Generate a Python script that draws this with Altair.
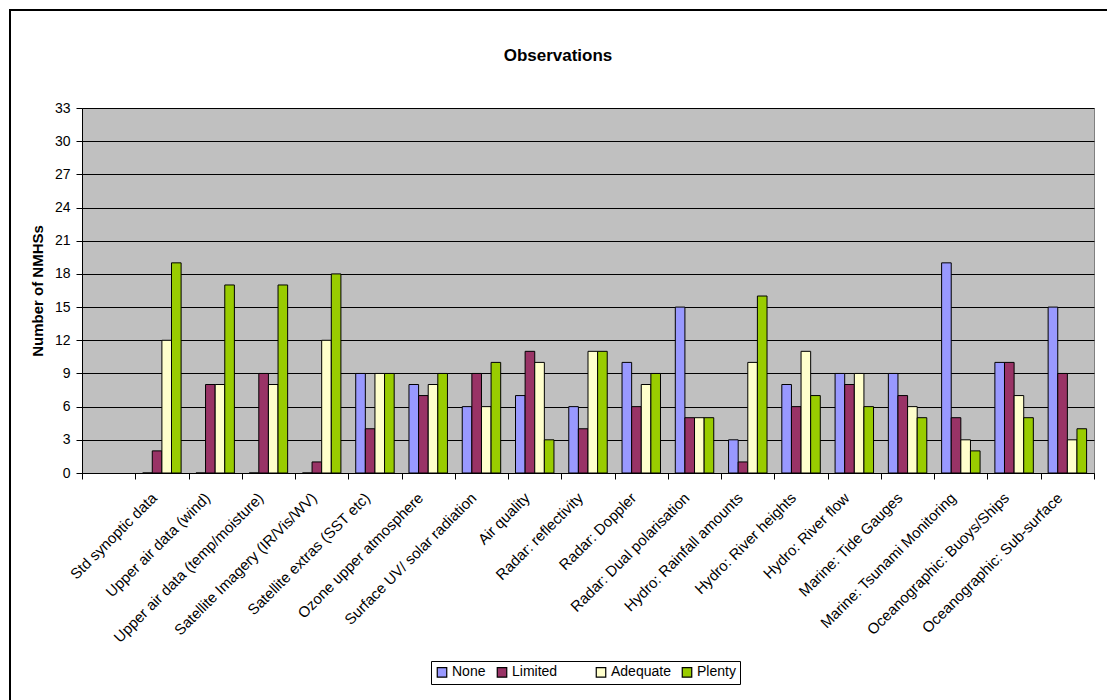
import altair as alt
import pandas as pd

categories = [
    "Std synoptic data", "Upper air data (wind)", "Upper air data (temp/moisture)",
    "Satellite Imagery (IR/Vis/WV)", "Satellite extras (SST etc)", "Ozone upper atmosphere",
    "Surface UV/ solar radiation", "Air quality", "Radar: reflectivity", "Radar: Doppler",
    "Radar: Dual polarisation", "Hydro: Rainfall amounts", "Hydro: River heights",
    "Hydro: River flow", "Marine: Tide Gauges", "Marine: Tsunami Monitoring",
    "Oceanographic: Buoys/Ships", "Oceanographic: Sub-surface",
]
none_vals = [0, 0, 0, 0, 9, 8, 6, 7, 6, 10, 15, 3, 8, 9, 9, 19, 10, 15]
limited_vals = [2, 8, 9, 1, 4, 7, 9, 11, 4, 6, 5, 1, 6, 8, 7, 5, 10, 9]
adequate_vals = [12, 8, 8, 12, 9, 8, 6, 10, 11, 8, 5, 10, 11, 9, 6, 3, 7, 3]
plenty_vals = [19, 17, 17, 18, 9, 9, 10, 3, 11, 9, 5, 16, 7, 6, 5, 2, 5, 4]
series = ["None", "Limited", "Adequate", "Plenty"]
colors = ["#9999FF", "#993366", "#FFFFCC", "#99CC00"]
y_ticks = list(range(0, 34, 3))
title_text = "Observations"

rows = []
for s, vals in zip(series, [none_vals, limited_vals, adequate_vals, plenty_vals]):
    for c, v in zip(categories, vals):
        rows.append({"category": c, "series": s, "value": v})
df = pd.DataFrame(rows)

FONT = "Liberation Sans"
domain_x = [" "] + categories

NB = "\u00a0"
ZW = "\u200b"
legend_expr = "datum.label == 'Limited' ? 'Limited" + NB * 7 + ZW + "' : datum.label"

bars = alt.Chart(df).mark_bar(stroke="black", strokeWidth=1).encode(
    x=alt.X("category:N", sort=domain_x,
            scale=alt.Scale(domain=domain_x, paddingInner=0, paddingOuter=0),
            axis=alt.Axis(title=None, labelAngle=-45, labelAlign="right", labelBaseline="top",
                          tickBand="extent", labelFontSize=15, labelFont=FONT,
                          labelColor="black", domainColor="black", tickColor="black",
                          tickSize=6, labelPadding=11, labelOffset=-13,
                          grid=False, labelLimit=400)),
    xOffset=alt.XOffset("series:N", sort=series,
                        scale=alt.Scale(domain=series, paddingInner=0, paddingOuter=0.77)),
    y=alt.Y("value:Q", scale=alt.Scale(domain=[0, 33], nice=False),
            axis=alt.Axis(title="Number of NMHSs", values=y_ticks, grid=True,
                          gridColor="black", gridOpacity=1, gridWidth=1,
                          labelFontSize=14, labelFont=FONT, labelColor="black",
                          domainColor="black", tickColor="black", tickSize=6,
                          labelPadding=6,
                          titleFont=FONT, titleFontSize=15, titleFontWeight="bold",
                          titleColor="black", titlePadding=9)),
    color=alt.Color("series:N", sort=series,
                    scale=alt.Scale(domain=series, range=colors),
                    legend=alt.Legend(title=None, orient="none", legendX=349, legendY=553,
                                      direction="horizontal", symbolType="square",
                                      symbolSize=90, symbolStrokeColor="black",
                                      symbolStrokeWidth=1.2, labelFont=FONT, labelFontSize=14,
                                      labelColor="black", strokeColor="black",
                                      fillColor="white", padding=4, columnPadding=8,
                                      labelOffset=3, symbolOpacity=1,
                                      labelExpr=legend_expr)),
)

frame = alt.Chart(pd.DataFrame({"a": [0]})).mark_rect(
    fill=None, stroke="black", strokeWidth=2
).encode(
    x=alt.value(-72), x2=alt.value(1200), y=alt.value(-98), y2=alt.value(900)
)

title = alt.Chart(pd.DataFrame({"t": [title_text]})).mark_text(
    font=FONT, fontSize=17, fontWeight="bold", color="black",
    align="center", baseline="alphabetic"
).encode(
    text="t:N", x=alt.value(476), y=alt.value(-47)
)

chart = alt.layer(bars, frame, title).properties(
    width=1012, height=365,
    autosize=alt.AutoSizeParams(type="none"),
    padding={"left": 82, "top": 108, "right": 13, "bottom": 227},
    background="white",
).configure_view(
    fill="#C0C0C0", stroke="#808080", strokeWidth=1
)

chart.save("out.html", embed_options={"renderer": "svg", "actions": False})
